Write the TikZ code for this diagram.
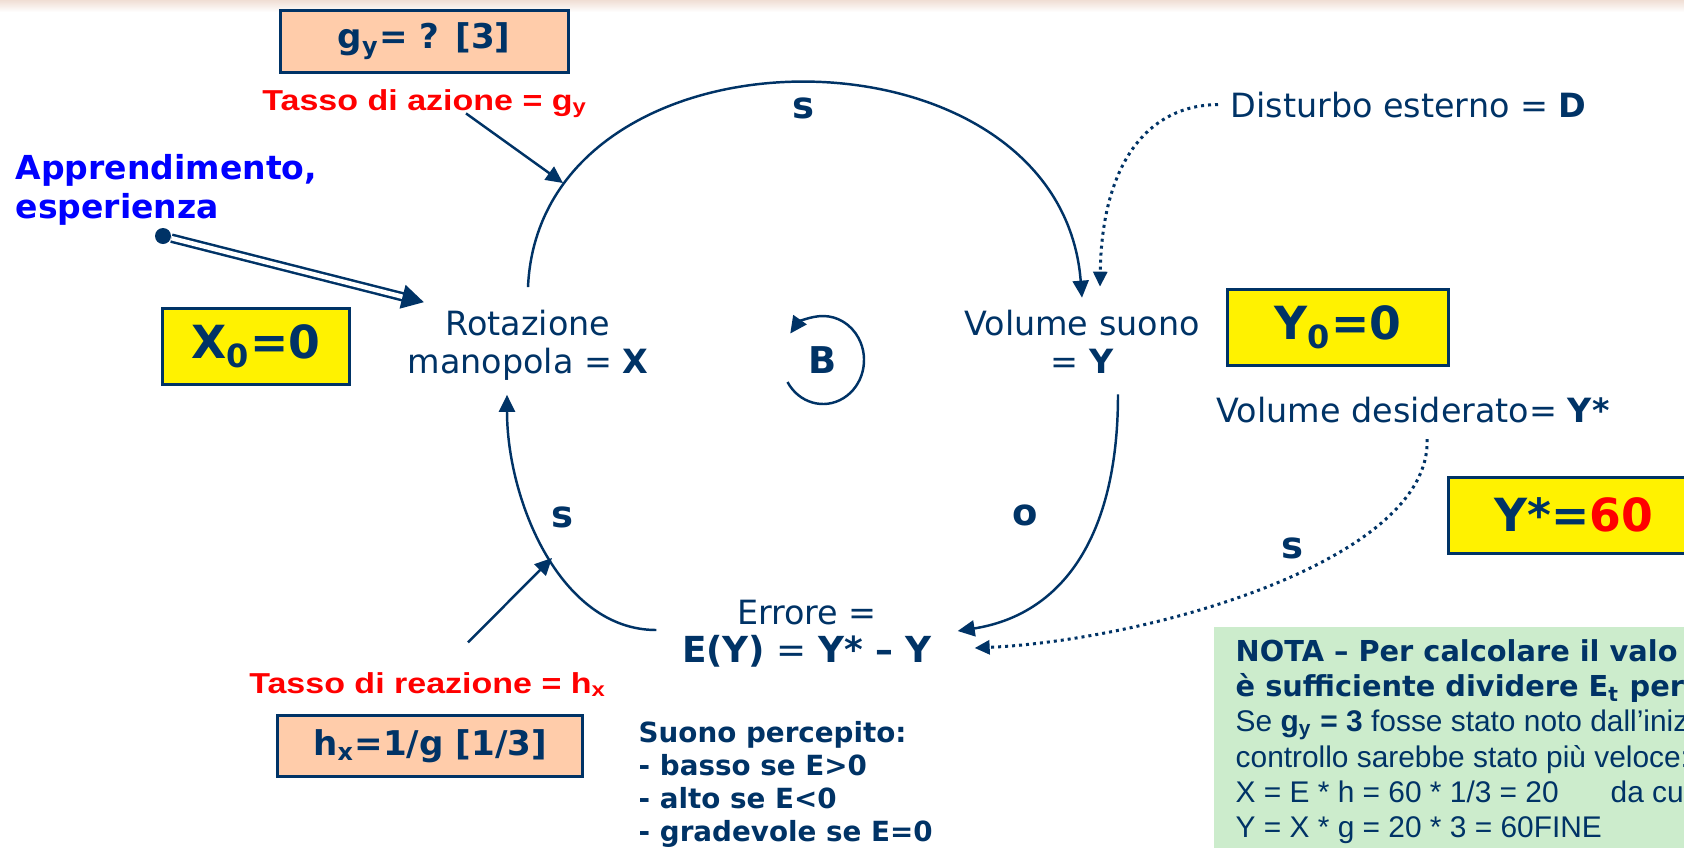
\documentclass[tikz,border=0pt]{standalone}
\usepackage{fontspec}
\setmainfont{DejaVu Sans}
\newfontfamily\arialfont{Liberation Sans}
\newfontfamily\ratefont[FakeStretch=1.18]{Liberation Sans}
\usetikzlibrary{arrows.meta,positioning,calc}
\definecolor{navy}{RGB}{0,51,102}
\definecolor{peach}{RGB}{255,204,170}
\definecolor{notegreen}{RGB}{204,236,204}
\definecolor{learnblue}{RGB}{0,0,255}
\definecolor{stripe}{RGB}{240,222,212}

\begin{document}
\begin{tikzpicture}[x=0.1mm,y=-0.1mm,>={Triangle[length=1.7mm,width=1.6mm]},
  var/.style={text=navy,align=center,inner sep=1.2mm,font=\fontsize{9.5}{10.8}\selectfont},
  pol/.style={text=navy,inner sep=0.5mm,font=\bfseries\fontsize{10.5}{12}\selectfont},
  rate/.style={text=red,inner sep=0pt,font=\ratefont\bfseries\fontsize{8.2}{9.6}\selectfont},
  valbox/.style={draw=navy,line width=0.3mm,fill=peach,text=navy,inner sep=0pt,font=\bfseries\fontsize{9.7}{11}\selectfont},
  initbox/.style={draw=navy,line width=0.3mm,fill=yellow,text=navy,inner sep=0pt,minimum height=7.6mm,font=\bfseries\fontsize{13}{15}\selectfont},
  link/.style={draw=navy,line width=0.7pt,->},
  extlink/.style={draw=navy,line width=0.3mm,dash pattern=on 0.3mm off 0.4mm,-{Triangle[length=1.5mm,width=1.4mm]}}]
\clip (0,0) rectangle (1684,847);
\fill[white] (0,0) rectangle (1684,847);
\shade[top color=stripe,bottom color=white] (0,0) rectangle (1684,12);

\node[var] (X) at (528,345) {Rotazione\\manopola = \textbf{X}};
\node[var] (Y) at (1082,342) {Volume suono\\= \textbf{Y}};
\node[var] (E) at (807,634) {Errore =\\{\fontsize{10.2}{10.8}\selectfont\textbf{E(Y)} = \textbf{Y* – Y}}};
\node[var,anchor=base west] (D) at (1218,117) {Disturbo esterno = \textbf{D}};
\node[var,anchor=base west] (Ydes) at (1204,422) {Volume desiderato= \textbf{Y*}};
\node[pol] (B) at (823,360) {B};

\node[pol] (sXY) at (803,108) {s};
\node[pol] (oYE) at (1025,515) {o};
\node[pol] (sEX) at (562,517) {s};
\node[pol] (sDE) at (1292,548) {s};

\node[rate,anchor=base] (ga) at (425,110) {Tasso di azione = g\textsubscript{y}};
\node[rate,anchor=base] (hr) at (428,693) {Tasso di reazione = h\textsubscript{x}};
\node[valbox,minimum width=28.8mm,minimum height=6.2mm] (gbox) at (424,41) {g\textsubscript{y}= ? [3]};
\node[valbox,minimum width=30.5mm,minimum height=6.1mm] (hbox) at (430,746) {h\textsubscript{x}=1/g [1/3]};
\node[initbox,minimum width=18.7mm] (x0) at (256,346) {X\textsubscript{0}=0};
\node[initbox,minimum width=22.1mm] (y0) at (1338,327) {Y\textsubscript{0}=0};
\node[initbox,minimum width=25.2mm] (ystar) at (1574,515) {Y*=\textcolor{red}{60}};

\node[anchor=north west,inner sep=0pt,align=left,text=learnblue,font=\bfseries\fontsize{9.4}{11.1}\selectfont] (learn) at (15,154) {Apprendimento,\\esperienza};
\node[circle,fill=navy,inner sep=0pt,minimum size=1.6mm] (dot) at (163,236) {};

\node[anchor=north west,inner sep=0pt,align=left,text=navy,font=\bfseries\fontsize{7.9}{9.4}\selectfont] (heard) at (638,721) {Suono percepito:\\- basso se E>0\\- alto se E<0\\- gradevole se E=0};

\node[fill=notegreen,anchor=north west,inner sep=0pt,minimum width=50mm,minimum height=25mm] (nota) at (1213,626) {};
\node[anchor=north west,inner sep=0pt,align=left,text=navy,font=\arialfont\fontsize{8.5}{10}\selectfont] (notatext) at ($(nota.north west)+(22,13)$) {%
{\rmfamily\bfseries\fontsize{8.2}{10}\selectfont NOTA – Per calcolare il valo}\\
{\rmfamily\bfseries\fontsize{8.2}{10}\selectfont è sufficiente dividere E\textsubscript{t} per}\\
Se \textbf{g\textsubscript{y} = 3} fosse stato noto dall’iniz\\
controllo sarebbe stato più veloce:\\
X = E * h = 60 * 1/3 = 20\hspace{5.2mm}da cui\\
Y = X * g = 20 * 3 = 60FINE};

\coordinate (gaTip) at (563,183);
\coordinate (hrTip) at (552,558);

\draw[link] ([yshift=1mm]X.north) .. controls (540,14) and (1060,14) .. (Y.north);
\draw[link] ($(Y.south)+(36,8)$) .. controls (1118,540) and (1060,615) .. ($(E.east)+(13,-3)$);
\draw[link] ($(E.west)+(-13,-4)$) .. controls (560,630) and (507,500) .. ($(X.south)+(-21,2)$);
\draw[extlink] (D.west) .. controls (1150,105) and (1102,160) .. ($(Y.north)+(18,-11)$);
\draw[extlink] ($(Ydes.south)+(14,4)$) .. controls (1431,560) and (1150,640) .. ($(E.east)+(30,14)$);
\draw[link] ($(ga.south)+(41,-5)$) -- (gaTip);
\draw[link] ($(hr.north)+(40,-29)$) -- (hrTip);
\draw[navy,line width=0.25mm,double=white,double distance=0.45mm,-{Triangle[length=2.2mm,width=2.4mm]}] (dot) -- ($(X.north west)+(29,5)$);
\draw[link] ($(B.center)+(-35.5,22)$) arc[start angle=150,end angle=-143,x radius=41,y radius=44];
\end{tikzpicture}
\end{document}
